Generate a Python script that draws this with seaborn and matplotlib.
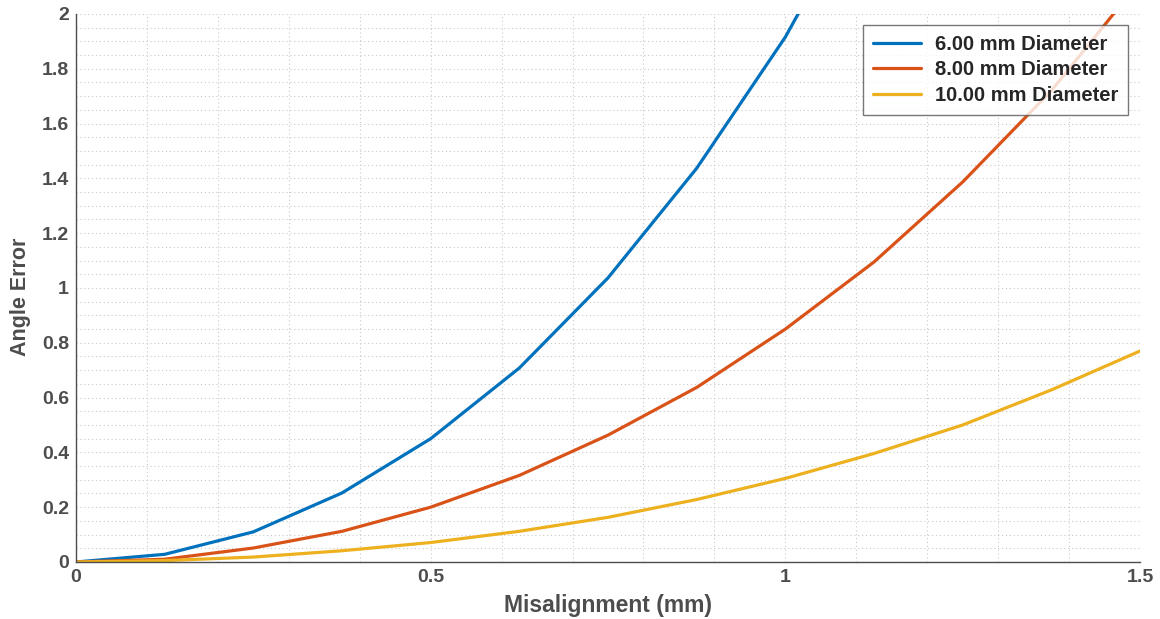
import seaborn as sns
import matplotlib.pyplot as plt
from matplotlib.ticker import MultipleLocator
import pandas as pd

# Values
misalignment = [0, 0.125, 0.25, 0.375, 0.5, 0.625, 0.75, 0.875, 1.0, 1.125, 1.25, 1.375, 1.5]
err_6mm = [0, 0.028, 0.11, 0.252, 0.45, 0.708, 1.037, 1.437, 1.916, 2.5, 3.2, 4.0, 4.9]
err_8mm = [0, 0.01, 0.051, 0.112, 0.2, 0.316, 0.463, 0.637, 0.85, 1.095, 1.387, 1.72, 2.12]
err_10mm = [0, 0.005, 0.018, 0.041, 0.071, 0.112, 0.163, 0.228, 0.305, 0.396, 0.5, 0.628, 0.77]
labels = ["6.00 mm Diameter", "8.00 mm Diameter", "10.00 mm Diameter"]
colors = ["#0072BD", "#D95319", "#EDB120"]

df = pd.concat([
    pd.DataFrame({"x": misalignment, "y": vals, "series": lab})
    for vals, lab in zip([err_6mm, err_8mm, err_10mm], labels)
])

sns.set_style("white")
plt.rcParams["font.family"] = ["Liberation Sans", "DejaVu Sans"]
plt.rcParams["font.weight"] = "bold"

fig = plt.figure(figsize=(11.6, 6.19), dpi=100)
ax = fig.add_axes([0.0655, 0.0921, 0.9173, 0.8853])

sns.lineplot(data=df, x="x", y="y", hue="series", palette=colors,
             linewidth=2.3, ax=ax, legend=False)

ax.set_xlim(0, 1.5)
ax.set_ylim(0, 2)
ax.xaxis.set_major_locator(MultipleLocator(0.5))
ax.xaxis.set_minor_locator(MultipleLocator(0.1))
ax.yaxis.set_major_locator(MultipleLocator(0.2))
ax.yaxis.set_minor_locator(MultipleLocator(0.05))
ax.xaxis.set_major_formatter(plt.FuncFormatter(lambda v, p: f"{v:g}"))
ax.yaxis.set_major_formatter(plt.FuncFormatter(lambda v, p: f"{v:g}"))

gray = "#4d4d4d"
ax.grid(which="both", color="#c8c8c8", linestyle=(0, (1, 2.5)), linewidth=0.8)
ax.set_axisbelow(True)
for s in ["top", "right"]:
    ax.spines[s].set_visible(False)
for s in ["left", "bottom"]:
    ax.spines[s].set_color(gray)
    ax.spines[s].set_linewidth(1.0)
ax.tick_params(which="major", direction="in", length=6, width=1, color=gray,
               labelcolor=gray, labelsize=14, pad=5)
ax.tick_params(which="minor", length=0)
for t in ax.get_xticklabels() + ax.get_yticklabels():
    t.set_fontweight("bold")

ax.set_xlabel("Misalignment (mm)", fontsize=16.5, fontweight="bold", color=gray, labelpad=6)
ax.set_ylabel("Angle Error", fontsize=15.5, fontweight="bold", color=gray, labelpad=8)
ax.yaxis.set_label_coords(-0.042, 0.483)

for lab, c in zip(labels, colors):
    ax.plot([], [], color=c, linewidth=2.3, label=lab)
leg = ax.legend(loc="upper right", bbox_to_anchor=(0.9887, 0.98), fontsize=14.5,
                frameon=True, fancybox=False, edgecolor="#555555",
                handlelength=2.4, borderpad=0.5, labelspacing=0.32,
                handletextpad=0.65, borderaxespad=0)
leg.get_frame().set_linewidth(1.0)
for t in leg.get_texts():
    t.set_color("#262626")
    t.set_fontweight("bold")

fig.savefig("out.png", dpi=100)
